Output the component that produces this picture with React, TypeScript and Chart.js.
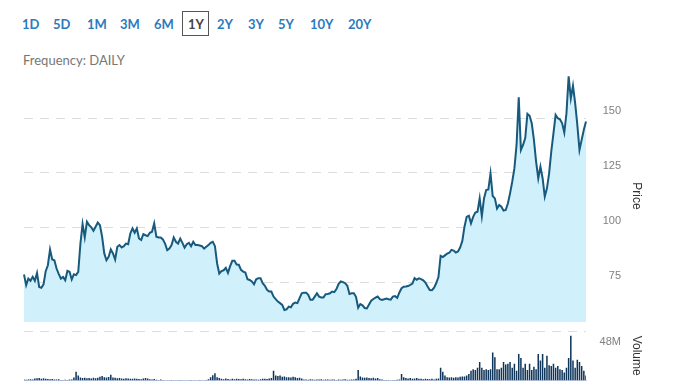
import React, { useEffect, useRef } from 'react';
import { Chart, registerables } from 'chart.js';

Chart.register(...registerables);

const RANGES = ['1D', '5D', '1M', '3M', '6M', '1Y', '2Y', '3Y', '5Y', '10Y', '20Y'];
const SELECTED_RANGE = '1Y';
const FREQUENCY = 'DAILY';
const PRICE_TICKS = [75, 100, 125, 150];
const VOLUME_TICK = 48;

const PRICE = [
  78.7, 73.8, 76.8, 75.8, 77.6, 75.8, 79.4, 73.0, 72.6, 74.2,
  80.2, 82.9, 90.1, 85.5, 85.2, 81.4, 79.0, 76.8, 77.6, 76.1,
  80.3, 79.9, 76.4, 78.8, 78.4, 79.9, 92.8, 101.7, 95.6, 102.7,
  101.2, 100.2, 98.6, 100.5, 102.4, 101.2, 95.9, 88.3, 85.2, 86.7,
  90.1, 88.3, 85.5, 91.3, 92.1, 91.0, 91.6, 92.8, 92.5,
  97.4, 99.7, 97.7, 99.7, 95.1, 94.4, 97.1, 96.6, 96.2, 97.7,
  98.2, 102.0, 95.9, 95.6, 95.6, 94.7, 92.8, 89.8, 90.5, 92.1,
  95.6, 93.6, 92.8, 95.1, 93.1, 90.9, 92.5, 93.1, 91.6, 93.6,
  92.1, 92.1, 91.9, 91.6, 90.5, 91.3, 92.1, 93.1, 93.6, 91.6,
  83.7, 79.1, 80.2, 80.6, 81.7, 79.4, 82.5, 84.9, 84.9, 83.2,
  83.1, 80.8, 80.0, 79.6, 76.5, 76.2, 75.5, 74.2, 76.5, 77.0,
  77.0, 74.7, 73.5, 71.7, 70.9, 70.9, 68.6, 67.4, 66.3, 65.6,
  64.8, 62.5, 62.8, 64.0, 63.7, 65.3, 65.9, 65.6, 67.9, 70.1,
  70.4, 70.4, 69.4, 67.1, 67.1, 68.6, 70.1, 68.6, 68.2, 68.2,
  69.7, 69.8, 70.1, 70.9, 70.6, 72.0, 74.4, 75.5, 75.2, 74.7,
  73.5, 69.8, 70.1, 70.1,
  68.5, 63.5, 65.2, 64.6, 63.4, 63.2, 65.0, 66.7, 67.5, 68.1,
  68.6, 67.4, 67.1, 67.4, 67.7, 67.4, 67.2, 68.6, 68.8, 68.0,
  70.5, 72.4, 73.1, 73.2, 73.4, 73.9, 74.5, 77.0, 76.3, 76.9,
  76.6, 76.0, 75.0, 73.2, 71.6, 71.5, 72.7, 74.8, 77.5, 87.2,
  86.6, 87.4, 88.2, 88.6, 89.9, 89.6, 88.7, 89.2, 91.0, 94.0,
  100.5, 105.0, 105.5, 102.0, 105.0, 106.9, 107.3, 113.4, 105.3, 113.4,
  117.2, 117.5, 124.8, 114.5, 113.4, 108.8, 110.4, 109.6, 107.8, 108.1,
  111.1, 115.7, 121.0, 127.1, 137.8, 159.6, 135.5, 137.8, 140.9, 152.0,
  151.1, 147.7, 140.1, 130.2, 122.6, 127.9, 122.6, 114.2, 118.0, 124.8,
  134.8, 143.1, 151.5, 150.0, 149.5, 147.7, 143.4, 152.3, 169.1, 159.1,
  164.8, 156.9, 147.0, 135.5, 140.1, 144.7, 148.5,
];

// volume in millions
const VOLUME = [
  1.2, 0.8, 1.0, 1.5, 1.2,
  2.5, 2.8, 3.0, 2.2, 2.6, 2.0, 1.8,
  1.5, 1.8, 1.2, 1.0, 1.4, 0.6, 0.5, 0.8,
  0.5, 1.0, 1.2, 3.5,
  11,
  6, 3.5, 3, 3.2, 2.8, 3, 2.5, 3.4, 2.6,
  3.2, 4.5, 5.5, 3.8, 3.6, 4.2, 7,
  3.5, 3.2, 2.8, 3.0, 2.5, 2.2, 2.6, 2.4, 2.0, 2.2, 2.5, 2.0, 1.8, 1.6, 2.4, 3.0, 2.5, 1.5,
  1.2, 1.8, 0.8, 0.5, 1.0, 0.4, 0.3,
  0.3, 0.2, 0.4, 0.3, 0.2, 0.3, 0.4, 0.2, 0.3, 0.3, 0.2, 0.4, 0.3, 0.2, 0.3, 0.4, 0.3, 0.2, 0.5,
  1.5, 4, 6.5, 9, 4, 3,
  2, 1.5, 2.5, 1.8, 1.2, 2, 1.5, 2.2, 1.8, 1.4, 2, 1.6, 1.2, 1.8, 1.5, 1, 1.2, 0.8, 1.5, 2, 2.2, 1.8, 2.5,
  3, 12,
  6, 5.5, 6, 4.5, 5, 4,
  4, 3.5, 4.5, 3.8, 3, 3.2, 2.5,
  1.2, 1, 0.8, 1.5, 1, 0.8, 1.2, 1, 1.4, 0.9, 1.2, 1,
  0.8, 1, 1.2, 0.6, 1, 0.8, 1, 1.3, 0.7, 0.9, 1, 1.2, 2,
  13,
  5, 3.5, 3.2, 3.5, 3, 2.8, 3.2, 2.5, 3, 1.5, 1,
  0.5, 0.4, 0.6, 0.3, 0.5, 0.4, 0.8, 1,
  8,
  4, 3, 2.5, 3, 2, 2.5, 3, 2, 2.2, 1.5, 2, 1.8, 1.5, 2, 1.2, 2, 2.5,
  16, 11,
  6, 4, 3.5, 4, 3.2, 4, 3.5, 4.5, 5,
  5, 6, 8, 12, 14, 13, 16, 23, 16, 13,
  14, 13, 14, 35, 29, 14, 14, 16, 23, 20,
  21, 23, 16, 21, 12, 33, 28, 16, 21, 13,
  21, 13, 17, 14, 33, 25, 33, 16, 31, 19,
  18, 21, 16, 18, 14, 13, 10, 16, 28, 56,
  25, 16, 26, 23, 18, 12, 6,
];

const DAYS = PRICE.map((_, i) => String(i + 1));

// layout (not data)
const BUTTON_LEFT = [22, 53, 87, 120, 154, 188, 217, 248, 278, 310, 348];
const AXIS_FONT = '"Liberation Sans", Arial, sans-serif';
const PRICE_MIN = 57;
const PRICE_MAX = 172;
const VOLUME_MAX = 62;
const AXIS_WIDTH = 35;
const RIGHT_PAD = 57;
const TITLE_PAD = -23;

export default function App() {
  const priceRef = useRef<HTMLCanvasElement>(null);
  const volRef = useRef<HTMLCanvasElement>(null);

  useEffect(() => {
    const priceChart = new Chart(priceRef.current as HTMLCanvasElement, {
      type: 'line',
      data: {
        labels: DAYS,
        datasets: [
          {
            data: PRICE,
            borderColor: '#185a7d',
            borderWidth: 2,
            backgroundColor: '#d0f0fc',
            fill: 'start',
            pointRadius: 0,
            tension: 0,
          },
        ],
      },
      options: {
        animation: false,
        responsive: false,
        maintainAspectRatio: false,
        layout: { padding: { left: 24, top: 70, right: RIGHT_PAD, bottom: 8 } },
        plugins: { legend: { display: false }, tooltip: { enabled: false } },
        scales: {
          x: { display: false },
          y: {
            position: 'right',
            min: PRICE_MIN,
            max: PRICE_MAX,
            afterBuildTicks: (s: any) => {
              s.ticks = PRICE_TICKS.map((v) => ({ value: v }));
            },
            afterFit: (s: any) => {
              s.width = AXIS_WIDTH;
            },
            grid: {
              color: '#dddddd',
              drawTicks: false,
              lineWidth: 1,
            },
            border: { display: false, dash: [9, 7] },
            ticks: {
              padding: 0,
              crossAlign: 'far',
              labelOffset: -7,
              color: '#808080',
              font: { size: 11, family: AXIS_FONT },
            },
            title: {
              display: true,
              text: 'Price',
              color: '#333333',
              font: { size: 12, family: AXIS_FONT },
              padding: { top: TITLE_PAD, bottom: 0 },
            },
          },
        },
      },
    } as any);

    const volChart = new Chart(volRef.current as HTMLCanvasElement, {
      type: 'bar',
      data: {
        labels: DAYS,
        datasets: [
          {
            data: VOLUME,
            backgroundColor: '#0f355a',
            barPercentage: 0.7,
            categoryPercentage: 1,
            borderWidth: 0,
          },
        ],
      },
      options: {
        animation: false,
        responsive: false,
        maintainAspectRatio: false,
        layout: { padding: { left: 24, top: 9, right: RIGHT_PAD, bottom: 0 } },
        plugins: { legend: { display: false }, tooltip: { enabled: false } },
        scales: {
          x: {
            offset: false,
            grid: { display: false, drawTicks: false },
            ticks: { display: false },
            border: { display: true, color: '#ccd6eb' },
          },
          y: {
            position: 'right',
            min: 0,
            max: VOLUME_MAX,
            afterBuildTicks: (s: any) => {
              s.ticks = [{ value: VOLUME_TICK }, { value: VOLUME_MAX }];
            },
            afterFit: (s: any) => {
              s.width = AXIS_WIDTH;
            },
            grid: {
              drawTicks: false,
              color: (ctx: any) =>
                ctx.tick && ctx.tick.value === VOLUME_MAX ? '#dddddd' : 'rgba(0,0,0,0)',
            },
            border: { display: false, dash: [9, 7] },
            ticks: {
              padding: 0,
              crossAlign: 'far',
              color: '#808080',
              font: { size: 11, family: AXIS_FONT },
              callback: (v: any) => (v === VOLUME_TICK ? VOLUME_TICK + 'M' : ''),
            },
            title: {
              display: true,
              text: 'Volume',
              color: '#333333',
              font: { size: 12, family: AXIS_FONT },
              padding: { top: TITLE_PAD, bottom: 0 },
            },
          },
        },
      },
    } as any);

    return () => {
      priceChart.destroy();
      volChart.destroy();
    };
  }, []);

  return (
    <div
      style={{
        position: 'absolute',
        left: 0,
        top: 0,
        width: 678,
        height: 381,
        background: '#ffffff',
        overflow: 'hidden',
        fontFamily: 'Lato, "Open Sans", sans-serif',
      }}
    >
      {RANGES.map((r) =>
        r === SELECTED_RANGE ? (
          <div
            key={r}
            style={{
              position: 'absolute',
              left: 182,
              top: 11,
              width: 27,
              height: 25,
              boxSizing: 'border-box',
              border: '1.5px solid #555555',
            }}
          />
        ) : null
      )}
      {RANGES.map((r, i) => (
        <span
          key={'t' + r}
          style={{
            position: 'absolute',
            left: BUTTON_LEFT[i],
            top: 16,
            fontSize: 13,
            fontWeight: 700,
            lineHeight: 'normal',
            whiteSpace: 'nowrap',
            color: r === SELECTED_RANGE ? '#444444' : '#2b7bbd',
          }}
        >
          {r}
        </span>
      ))}
      <span
        style={{
          position: 'absolute',
          left: 23,
          top: 52,
          fontSize: 13,
          lineHeight: 'normal',
          color: '#777777',
          whiteSpace: 'nowrap',
        }}
      >
        Frequency: {FREQUENCY}
      </span>
      <canvas
        ref={priceRef}
        width={678}
        height={330}
        style={{ position: 'absolute', left: 0, top: 0, width: 678, height: 330 }}
      />
      <canvas
        ref={volRef}
        width={678}
        height={65}
        style={{ position: 'absolute', left: 0, top: 322, width: 678, height: 65 }}
      />
    </div>
  );
}
